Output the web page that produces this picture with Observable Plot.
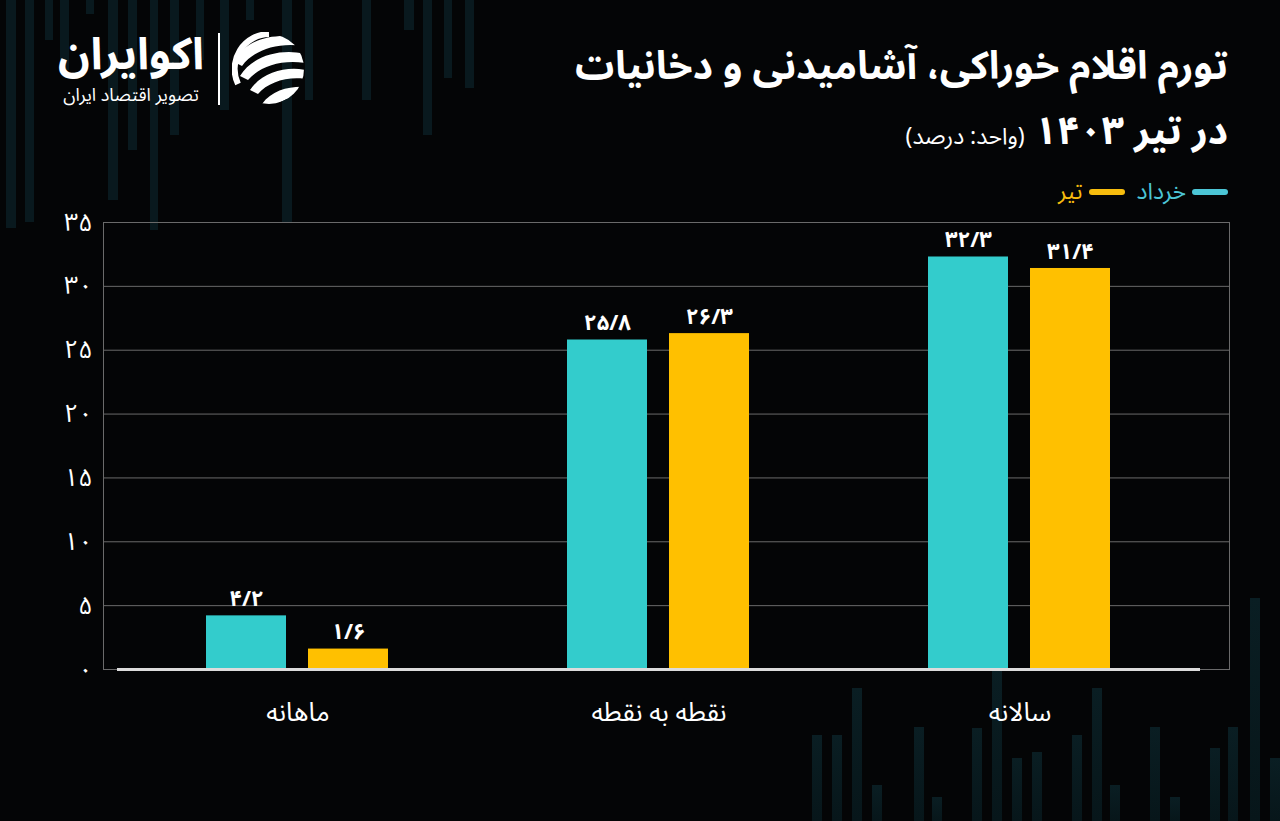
<!DOCTYPE html>
<html lang="fa">
<head>
<meta charset="utf-8">
<script src="https://cdn.jsdelivr.net/npm/d3@7"></script>
<script src="https://cdn.jsdelivr.net/npm/@observablehq/plot@0.6"></script>
<style>
  html, body { margin: 0; padding: 0; }
  body {
    width: 1280px; height: 821px; background: #040506; position: relative; overflow: hidden;
    font-family: "Noto Sans Arabic", "DejaVu Sans", sans-serif; color: #fff;
  }
  .deco { position: absolute; background: #09191e; }
  .deco.b { background: linear-gradient(#0a1e23, #07161a); }
  .t { position: absolute; direction: rtl; white-space: nowrap; line-height: 1; }
  #t1 { right: 52px; top: 47px; font-size: 39px; font-weight: bold; }
  #t2 { right: 52px; top: 112px; font-size: 39px; font-weight: bold; }
  #t2 span { font-size: 23px; font-weight: normal; }
  #legend { position: absolute; right: 52px; top: 180px; direction: rtl; display: flex; align-items: center; gap: 12px; font-size: 23px; line-height: 1; }
  #legend .item { display: flex; align-items: center; gap: 6px; }
  #legend .sw { width: 36px; height: 6px; border-radius: 3px; }
  #logoName { left: 52px; top: 33px; width: 158px; text-align: center; font-size: 44px; font-weight: bold; }
  #logoSub { left: 52px; top: 86px; width: 158px; text-align: center; font-size: 18px; }
  #logoSep { position: absolute; left: 218px; top: 33px; width: 2px; height: 72px; background: #fff; }
  #logoIcon { position: absolute; left: 232px; top: 32px; }
  .layer { position: absolute; left: 0; top: 180px; }
</style>
</head>
<body>
<div id="decos"></div>
<div id="logoName" class="t">اکوایران</div>
<div id="logoSub" class="t">تصویر اقتصاد ایران</div>
<div id="logoSep"></div>
<svg id="logoIcon" width="74" height="74" viewBox="0 0 74 74">
  <defs><clipPath id="cc"><circle cx="37" cy="37" r="35"/></clipPath></defs>
  <g clip-path="url(#cc)" fill="#fff">
    <path d="M2 30 C 12 8, 40 0, 72 6 L 72 14 C 45 10, 22 18, 10 34 Z"/>
    <path d="M8 44 C 20 24, 48 16, 74 22 L 74 31 C 50 27, 28 34, 16 48 Z"/>
    <path d="M18 58 C 30 40, 54 34, 74 38 L 74 47 C 56 44, 36 50, 26 62 Z"/>
    <path d="M30 72 C 40 58, 58 54, 74 55 L 74 64 C 62 64, 48 68, 40 76 Z"/>
  </g>
  <path d="M37 2 A 35 35 0 0 0 6 52" fill="none" stroke="#fff" stroke-width="6"/>
</svg>
<div id="t1" class="t">تورم اقلام خوراکی، آشامیدنی و دخانیات</div>
<div id="t2" class="t">در تیر ۱۴۰۳ <span>(واحد: درصد)</span></div>
<div id="legend"></div>
<div id="bg" class="layer"></div>
<div id="fg" class="layer"></div>
<script>
// ---- data ----
const groups = ["ماهانه", "نقطه به نقطه", "سالانه"];
const months = ["خرداد", "تیر"];
const khordad = [4.2, 25.8, 32.3];
const tir = [1.6, 26.3, 31.4];
const yTicks = [0, 5, 10, 15, 20, 25, 30, 35];
const colors = ["#33CCCC", "#FFC000"];
const legendColors = ["#4cc6d6", "#f7bd0e"];

const fa = v => String(v).replace(/\d/g, d => "۰۱۲۳۴۵۶۷۸۹"[d]).replace(".", "/");
const table = [];
groups.forEach((g, i) => {
  table.push({group: g, month: months[0], value: khordad[i]});
  table.push({group: g, month: months[1], value: tir[i]});
});

// decorative background strips
const decoTop = [[6,10,228],[25,9,222],[45,8,40],[60,9,70],[86,8,14],[108,10,200],[128,9,150],[150,8,230],[170,9,135],[196,8,60],[220,9,110],[246,8,20],[282,10,222],[305,8,100],[362,9,100],[404,10,30],[423,9,135],[444,8,78],[465,9,88]];
const decoBot = [[812,10,735],[832,10,735],[852,10,688],[872,10,785],[914,10,727],[932,10,797],[972,10,728],[992,10,668],[1012,10,758],[1032,10,752],[1072,10,735],[1092,10,688],[1110,10,785],[1150,10,727],[1170,10,797],[1210,10,748],[1228,10,727],[1250,10,598],[1270,10,758]];
const decos = document.getElementById("decos");
decoTop.forEach(([x,w,h]) => { const d = document.createElement("div"); d.className = "deco"; Object.assign(d.style, {left: x+"px", width: w+"px", top: "0px", height: h+"px"}); decos.appendChild(d); });
decoBot.forEach(([x,w,t]) => { const d = document.createElement("div"); d.className = "deco b"; Object.assign(d.style, {left: x+"px", width: w+"px", top: t+"px", height: (821-t)+"px"}); decos.appendChild(d); });

// legend
const lg = document.getElementById("legend");
months.forEach((m, i) => {
  const it = document.createElement("div"); it.className = "item";
  it.innerHTML = `<div class="sw" style="background:${legendColors[i]}"></div><div style="color:${legendColors[i]}">${m}</div>`;
  lg.appendChild(it);
});

const H = 580, mt = 42, mb = 91;
const font = '"Noto Sans Arabic", "DejaVu Sans", sans-serif';

// background layer: frame, grid, y axis
const bg = Plot.plot({
  width: 1280, height: H,
  marginLeft: 103, marginRight: 51, marginTop: mt, marginBottom: mb,
  style: {background: "transparent", color: "#fff", fontFamily: font},
  x: {axis: null, domain: [0, 1]},
  y: {domain: [0, 35], ticks: yTicks},
  marks: [
    Plot.gridY(yTicks, {stroke: "#6a6a6a", strokeOpacity: 1, strokeWidth: 1}),
    Plot.frame({stroke: "#6a6a6a", strokeWidth: 1}),
    Plot.axisY(yTicks, {tickSize: 0, tickPadding: 11, tickFormat: fa, fontSize: 25, fill: "#fff"})
  ]
});
document.getElementById("bg").appendChild(bg);

// foreground layer: bars
const fg = Plot.plot({
  width: 1280, height: H,
  marginLeft: 117, marginRight: 80, marginTop: mt, marginBottom: mb,
  style: {background: "transparent", color: "#fff", fontFamily: font},
  fx: {domain: groups, padding: 0, label: null},
  x: {domain: months, paddingInner: 0.214, paddingOuter: 0.86, axis: null},
  y: {domain: [0, 35], axis: null},
  color: {domain: months, range: colors},
  marks: [
    Plot.barY(table, {fx: "group", x: "month", y: "value", fill: "month"}),
    Plot.text(table, {fx: "group", x: "month", y: "value", text: d => fa(d.value), dy: -17, fontSize: 22, fontWeight: "bold", fill: "#fff"}),
    Plot.ruleY([0], {stroke: "#dcdcdc", strokeWidth: 3}),
    Plot.axisFx({anchor: "bottom", tickSize: 0, tickPadding: 33, fontSize: 26, fill: "#fff", label: null})
  ]
});
document.getElementById("fg").appendChild(fg);
</script>
</body>
</html>
